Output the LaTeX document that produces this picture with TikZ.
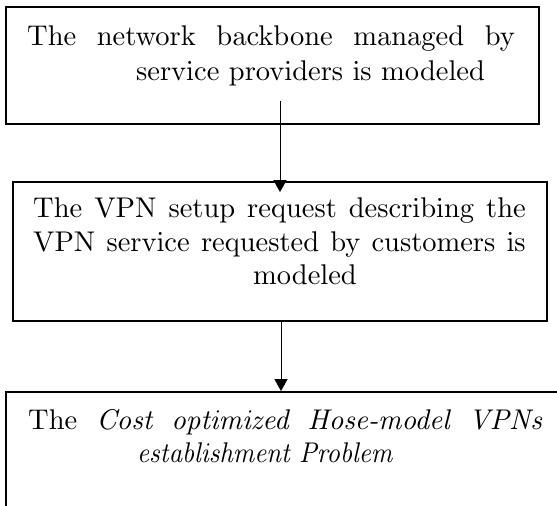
\documentclass[tikz,border=0pt]{standalone}
\usetikzlibrary{arrows.meta}
% text faces: the 10pt design cut, set large
\font\stagerm=cmr10 at 28.5pt
\font\stageit=cmti10 at 28.5pt
\begin{document}
\begin{tikzpicture}[x=1pt,y=-1pt,
  stage/.style={draw=black,line width=1.8pt,rectangle,inner sep=0pt},
  txt/.style={anchor=base west,inner sep=0pt,font=\stagerm},
  flow/.style={line width=1pt,-{Triangle[width=13pt,length=12pt]}}]
\useasboundingbox (0,0) rectangle (557,506);
\clip (0,0) rectangle (557,506);
% the three stages (the last one runs past the page)
\node[stage,minimum width=533pt,minimum height=117pt] (s1) at (272.5,65.5) {};
\node[stage,minimum width=534pt,minimum height=139pt] (s2) at (280,251.5) {};
\node[stage,minimum width=600pt,minimum height=200pt] (s3) at (306,492) {};
% stage texts
\node[txt] (t1a) at (27,45) {\makebox[488pt][s]{The network backbone managed by}};
\node[txt] (t1b) at (136,80) {service providers is modeled};
\node[txt] (t2a) at (33,217) {\makebox[493pt][s]{The VPN setup request describing the}};
\node[txt] (t2b) at (33,251) {\makebox[493pt][s]{VPN service requested by customers is}};
\node[txt] (t2c) at (253,284) {modeled};
\node[txt] (t3a) at (28,429) {\makebox[514pt][s]{The {\stageit Cost optimized Hose-model VPNs}}};
\node[txt,xscale=0.92,transform shape] (t3b) at (137,462) {\stageit establishment Problem};
% connectors
\draw[flow] ([xshift=7.5pt,yshift=24pt]s1.south) -- ([yshift=-11pt]s2.north);
\draw[flow] ([xshift=1pt]s2.south) -- ([xshift=-25pt]s3.north);
\end{tikzpicture}
\end{document}
